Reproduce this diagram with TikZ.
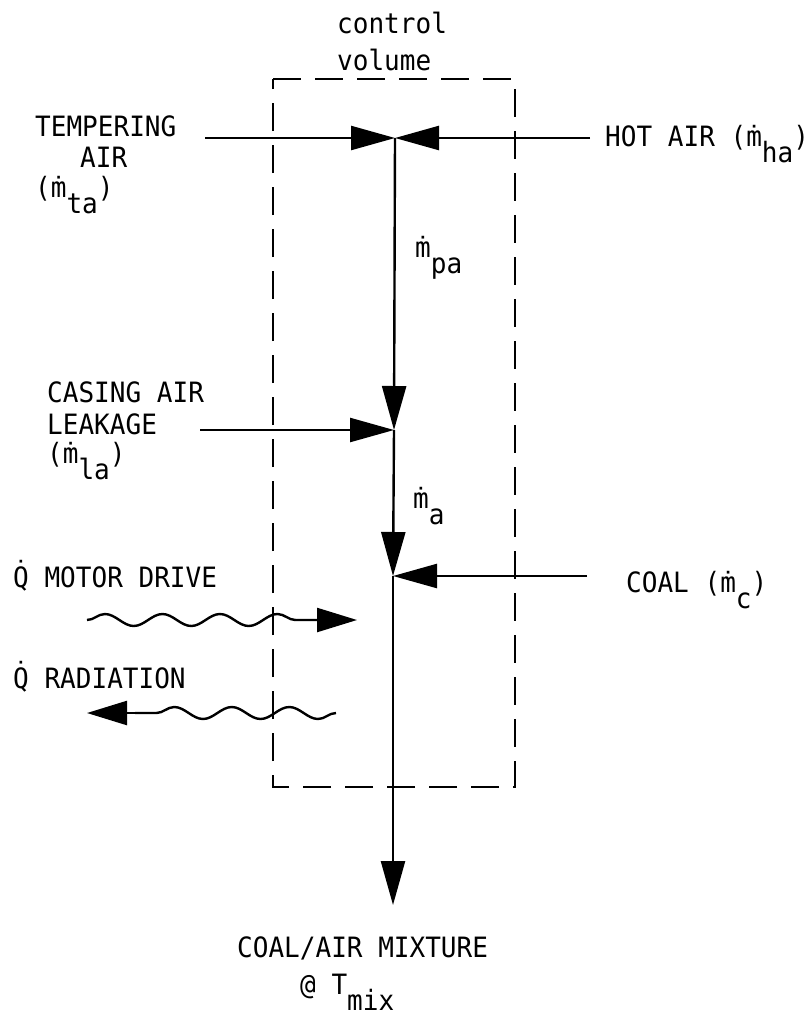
\documentclass[tikz,border=0pt]{standalone}
\usepackage{fontspec}
\setmainfont[FakeStretch=0.93]{DejaVu Sans Mono}
\usetikzlibrary{arrows.meta,decorations.pathmorphing}
\newcommand\lsub[1]{\raisebox{-16pt}{#1}}
\begin{document}
\begin{tikzpicture}[x=1pt,y=-1pt,
  lbl/.style={inner sep=0pt, anchor=base west, font=\fontsize{28}{30}\selectfont},
  flow/.style={line width=2.4pt, -{Triangle[length=44pt,width=24pt]}},
  wave/.style={line width=2.4pt, decorate,
    decoration={snake,amplitude=6pt,segment length=57.5pt}},
  heathead/.style={line width=2.4pt, -{Triangle[length=40pt,width=24pt]}},
  cv/.style={line width=2pt, dash pattern=on 28pt off 14pt}]
\useasboundingbox (0,0) rectangle (809,1015);
% control volume
\draw[cv] (273,79) -- (515,79) -- (515,787) -- (273,787) -- cycle;
% coordinates
\coordinate (J1) at (395,138);
\coordinate (J2) at (394,430);
\coordinate (J3) at (393,576);
\coordinate (ta) at (205,138);
\coordinate (ha) at (590,138);
\coordinate (la) at (200,430);
\coordinate (c) at (587,576);
\coordinate (out) at (393,905);
\coordinate (md0) at (87,620);
\coordinate (mdb) at (317,620);
\coordinate (md1) at (357,620);
\coordinate (rd0) at (336,713);
\coordinate (rdb) at (135,713);
\coordinate (rd1) at (87,713);
% flows
\draw[flow] (ta) -- (J1);
\draw[flow] (ha) -- (J1);
\draw[flow] (J1) -- (J2);
\draw[flow] (la) -- (J2);
\draw[flow] (J2) -- (J3);
\draw[flow] (c) -- (J3);
\draw[flow] (J3) -- (out);
% heat flows
\draw[wave] (md0) -- (mdb);
\draw[heathead] (mdb) -- (md1);
\draw[wave] (rd0) -- (rdb);
\draw[heathead] (rdb) -- (rd1);
% labels
\node[lbl] (cv1) at (337,33) {control};
\node[lbl] (cv2) at (337,70) {volume};
\node[lbl] (t1) at (35,136) {TEMPERING};
\node[lbl] (t2) at (80,167) {AIR};
\node[lbl] (t3) at (35,197) {(\.m\lsub{ta})};
\node[lbl] (h1) at (605,146) {HOT AIR (\.m\lsub{ha})};
\node[lbl] (pa) at (415,257) {\.m\lsub{pa}};
\node[lbl] (l1) at (47,402) {CASING AIR};
\node[lbl] (l2) at (47,434) {LEAKAGE};
\node[lbl] (l3) at (47,463) {(\.m\lsub{la})};
\node[lbl] (ma) at (413,508) {\.m\lsub{a}};
\node[lbl] (qm) at (13,587) {\.Q MOTOR DRIVE};
\node[lbl] (co) at (626,592) {COAL (\.m\lsub{c})};
\node[lbl] (qr) at (13,688) {\.Q RADIATION};
\node[lbl] (o1) at (237,957) {COAL/AIR MIXTURE};
\node[lbl] (o2) at (300,994) {@ T\lsub{mix}};
\end{tikzpicture}
\end{document}
